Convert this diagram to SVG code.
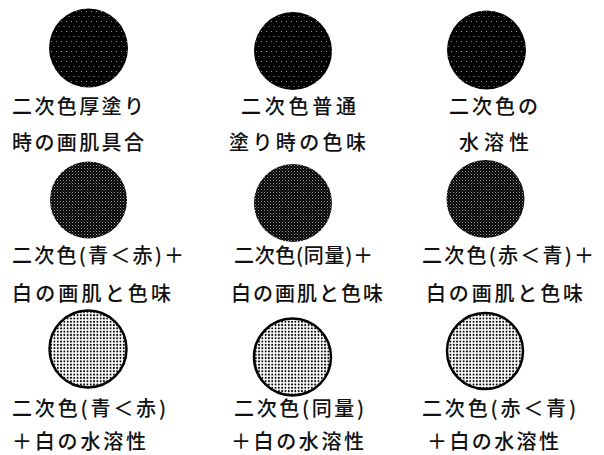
<svg xmlns="http://www.w3.org/2000/svg" width="604" height="455" viewBox="0 0 604 455">
<defs>
<pattern id="p1" width="5" height="10" patternUnits="userSpaceOnUse">
<rect width="5" height="10" fill="#000"/>
<rect x="1" y="1" width="1" height="1" fill="#9a9a9a"/>
<rect x="3.5" y="6" width="1" height="1" fill="#9a9a9a"/>
</pattern>
<pattern id="p2" width="3" height="3" patternUnits="userSpaceOnUse">
<rect width="3" height="3" fill="#000"/>
<rect x="0" y="0" width="1" height="1" fill="#999"/>
<rect x="1.5" y="1.5" width="1" height="1" fill="#666"/>
</pattern>
<pattern id="p3" width="3.3" height="3.3" patternUnits="userSpaceOnUse">
<rect width="3.3" height="3.3" fill="#fff"/>
<circle cx="1.65" cy="1.65" r="1.0" fill="#000"/>
</pattern>
</defs>
<style>
text{font-family:"Noto Sans CJK JP","Noto Sans CJK SC",sans-serif;font-size:20px;font-weight:500;fill:#111;}
.c1{fill:url(#p1);}
.c2{fill:url(#p2);}
.c3{fill:url(#p3);stroke:#000;stroke-width:2.5;}
</style>
<g id="n1"><circle class="c1" cx="88.5" cy="48" r="39.5"/>
<text x="12" y="114" textLength="132" lengthAdjust="spacing">二次色厚塗り</text>
<text x="12" y="150" textLength="132" lengthAdjust="spacing">時の画肌具合</text></g>
<g id="n2"><circle class="c1" cx="293" cy="51" r="39"/>
<text x="241" y="114" textLength="115" lengthAdjust="spacing">二次色普通</text>
<text x="229" y="150" textLength="137" lengthAdjust="spacing">塗り時の色味</text></g>
<g id="n3"><circle class="c1" cx="486.5" cy="50" r="39.5"/>
<text x="449" y="114" textLength="89" lengthAdjust="spacing">二次色の</text>
<text x="459" y="150" textLength="70" lengthAdjust="spacing">水溶性</text></g>
<g id="n4"><circle class="c2" cx="88.5" cy="200" r="38.5"/>
<text x="12" y="263" textLength="172" lengthAdjust="spacing">二次色(青＜赤)＋</text>
<text x="12" y="301" textLength="159" lengthAdjust="spacing">白の画肌と色味</text></g>
<g id="n5"><circle class="c2" cx="293" cy="203" r="39"/>
<text x="234" y="263" textLength="139" lengthAdjust="spacing">二次色(同量)＋</text>
<text x="231" y="301" textLength="152" lengthAdjust="spacing">白の画肌と色味</text></g>
<g id="n6"><circle class="c2" cx="485.5" cy="199" r="39"/>
<text x="422" y="263" textLength="172" lengthAdjust="spacing">二次色(赤＜青)＋</text>
<text x="426" y="301" textLength="157" lengthAdjust="spacing">白の画肌と色味</text></g>
<g id="n7"><circle class="c3" cx="88" cy="349" r="38.5"/>
<text x="12" y="416" textLength="154" lengthAdjust="spacing">二次色(青＜赤)</text>
<text x="12" y="449" textLength="134" lengthAdjust="spacing">＋白の水溶性</text></g>
<g id="n8"><circle class="c3" cx="292.5" cy="357" r="38.5"/>
<text x="234" y="416" textLength="130" lengthAdjust="spacing">二次色(同量)</text>
<text x="231" y="449" textLength="133" lengthAdjust="spacing">＋白の水溶性</text></g>
<g id="n9"><circle class="c3" cx="485" cy="351" r="38"/>
<text x="422" y="416" textLength="154" lengthAdjust="spacing">二次色(赤＜青)</text>
<text x="427" y="449" textLength="132" lengthAdjust="spacing">＋白の水溶性</text></g>
<g id="connectors"></g>
</svg>
